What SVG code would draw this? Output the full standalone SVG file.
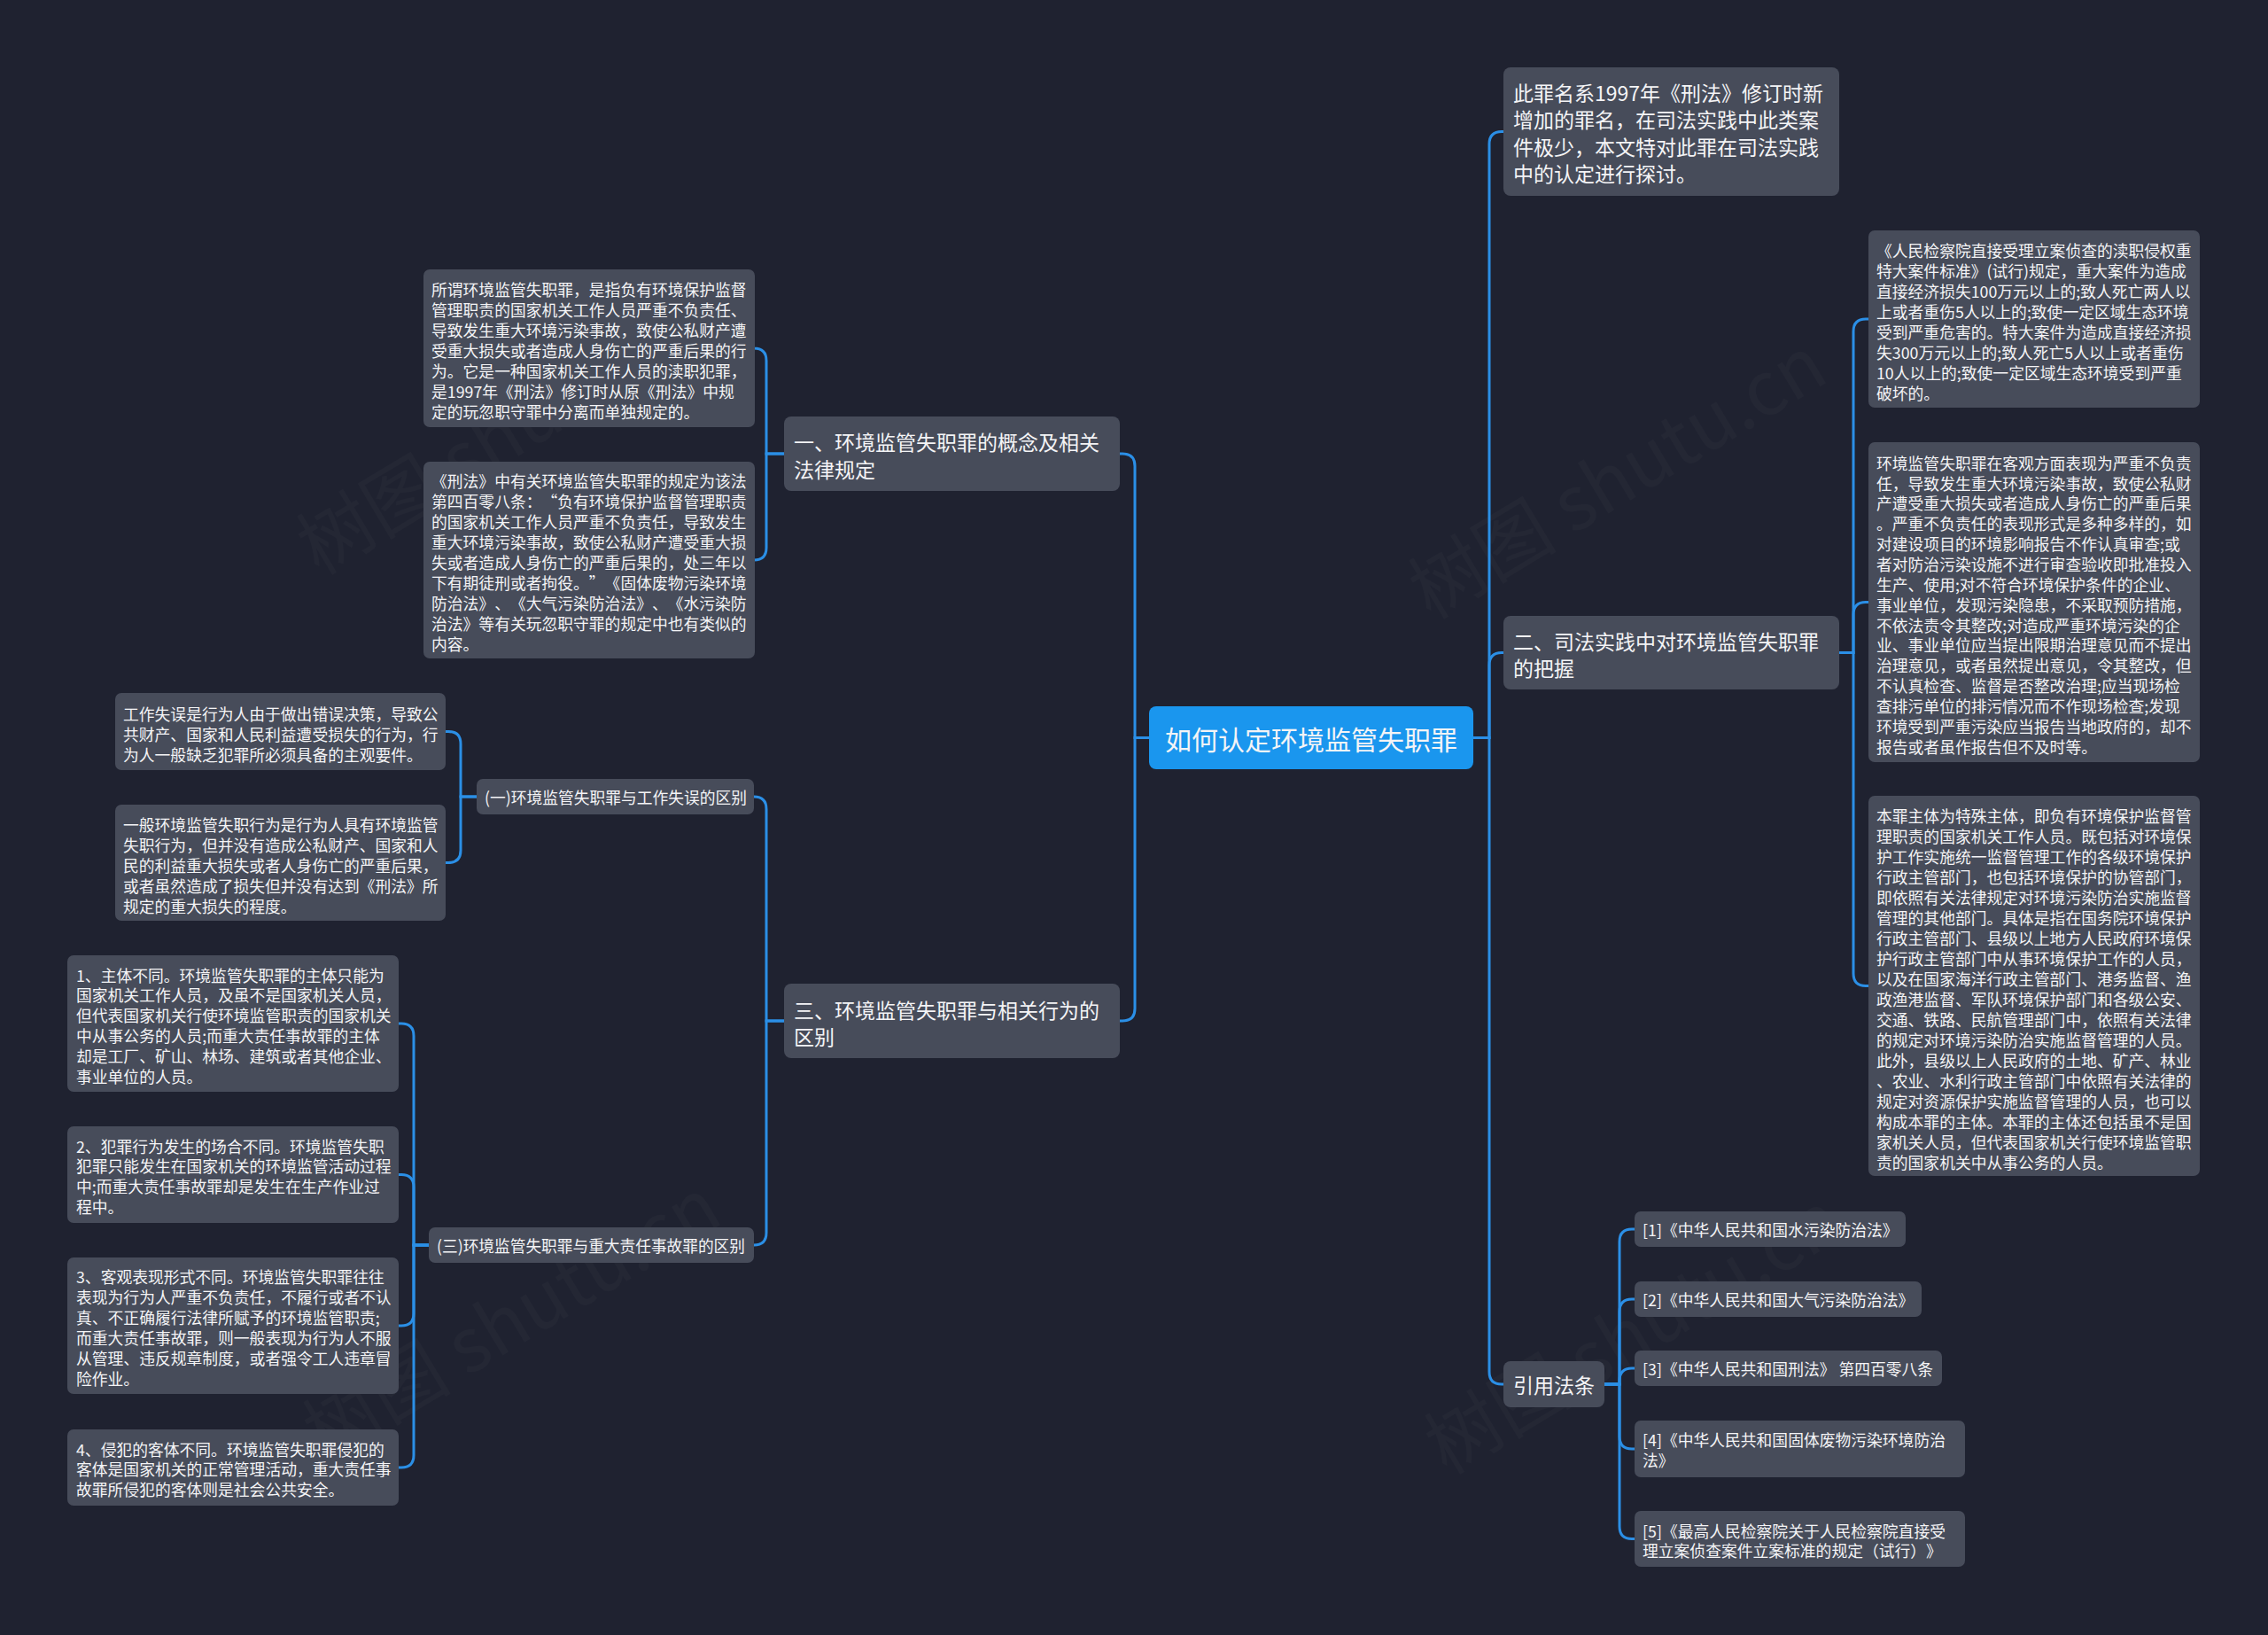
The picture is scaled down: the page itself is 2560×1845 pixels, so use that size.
<svg xmlns="http://www.w3.org/2000/svg" width="2560" height="1845" viewBox="0 0 2560 1845" lang="zh-CN" xml:lang="zh-CN">
<style>
.bg{fill:#1f2230}
.box{fill:#474c5a}
.root{fill:#1a96ee}
.t{fill:#f4f4f6;font-family:"Noto Sans CJK SC","Noto Sans",sans-serif;dominant-baseline:central;text-spacing-trim:space-all}
.s{font-size:17.8px}
.k{font-size:18.5px}
.m{font-size:23px}
.c{font-size:30px}
.e{fill:none;stroke:#2b8fe6;stroke-width:3}
.wm{fill:#ffffff;opacity:0.018;font-family:"Noto Sans CJK SC",sans-serif;font-size:84px}
</style>
<rect class="bg" x="0" y="0" width="2560" height="1845"/>
<g id="watermarks">
<text class="wm" transform="translate(360,650) rotate(-31)">树图 shutu.cn</text>
<text class="wm" transform="translate(1615,700) rotate(-31)">树图 shutu.cn</text>
<text class="wm" transform="translate(367,1650) rotate(-31)">树图 shutu.cn</text>
<text class="wm" transform="translate(1633,1665) rotate(-31)">树图 shutu.cn</text>
</g>
<g id="connectors">
<path class="e" d="M1663,832.5 H1681 V162.5 Q1681,148.5 1695,148.5 H1697"/>
<path class="e" d="M1663,832.5 H1681 V750.5 Q1681,736.5 1695,736.5 H1697"/>
<path class="e" d="M1663,832.5 H1681 V1548 Q1681,1562 1695,1562 H1697"/>
<path class="e" d="M1297,832.5 H1281 V526 Q1281,512 1267,512 H1264"/>
<path class="e" d="M1297,832.5 H1281 V1138 Q1281,1152 1267,1152 H1264"/>
<path class="e" d="M2076,736.5 H2092 V374 Q2092,360 2106,360 H2109"/>
<path class="e" d="M2076,736.5 H2092 V693.5 Q2092,679.5 2106,679.5 H2109"/>
<path class="e" d="M2076,736.5 H2092 V1098.5 Q2092,1112.5 2106,1112.5 H2109"/>
<path class="e" d="M1811,1562 H1828 V1401 Q1828,1387 1842,1387 H1845"/>
<path class="e" d="M1811,1562 H1828 V1480 Q1828,1466 1842,1466 H1845"/>
<path class="e" d="M1811,1562 H1828 V1558 Q1828,1544 1842,1544 H1845"/>
<path class="e" d="M1811,1562 H1828 V1621 Q1828,1635 1842,1635 H1845"/>
<path class="e" d="M1811,1562 H1828 V1722.5 Q1828,1736.5 1842,1736.5 H1845"/>
<path class="e" d="M885,512 H865 V407 Q865,393 851,393 H852"/>
<path class="e" d="M885,512 H865 V618 Q865,632 851,632 H852"/>
<path class="e" d="M885,1152 H865 V913 Q865,899 851,899"/>
<path class="e" d="M885,1152 H865 V1391 Q865,1405 851,1405"/>
<path class="e" d="M538,899 H520 V839.5 Q520,825.5 506,825.5 H503"/>
<path class="e" d="M538,899 H520 V959.5 Q520,973.5 506,973.5 H503"/>
<path class="e" d="M484,1405 H467 V1169 Q467,1155 453,1155 H450"/>
<path class="e" d="M484,1405 H467 V1339.5 Q467,1325.5 453,1325.5 H450"/>
<path class="e" d="M484,1405 H467 V1482 Q467,1496 453,1496 H450"/>
<path class="e" d="M484,1405 H467 V1642 Q467,1656 453,1656 H450"/>
</g>
<g id="root">
<rect class="root" x="1297" y="797" width="366" height="71" rx="8"/>
<text class="t c" x="1480" y="832.5" text-anchor="middle">如何认定环境监管失职罪</text>
</g>
<g id="intro">
<rect class="box" x="1697" y="76" width="379" height="145" rx="8"/>
<text class="t m" x="1708" y="103.5"><tspan x="1708">此罪名系1997年《刑法》修订时新</tspan><tspan x="1708" dy="30.5">增加的罪名，在司法实践中此类案</tspan><tspan x="1708" dy="30.5">件极少，本文特对此罪在司法实践</tspan><tspan x="1708" dy="30.5">中的认定进行探讨。</tspan></text>
</g>
<g id="n2">
<rect class="box" x="1697" y="695" width="379" height="83" rx="8"/>
<text class="t m" x="1708" y="722.5"><tspan x="1708">二、司法实践中对环境监管失职罪</tspan><tspan x="1708" dy="30.5">的把握</tspan></text>
</g>
<g id="leafA">
<rect class="box" x="2109" y="260" width="374" height="200" rx="7"/>
<text class="t s" x="2118" y="281.5"><tspan x="2118">《人民检察院直接受理立案侦查的渎职侵权重</tspan><tspan x="2118" dy="23.1">特大案件标准》(试行)规定，重大案件为造成</tspan><tspan x="2118" dy="23.1">直接经济损失100万元以上的;致人死亡两人以</tspan><tspan x="2118" dy="23.1">上或者重伤5人以上的;致使一定区域生态环境</tspan><tspan x="2118" dy="23.1">受到严重危害的。特大案件为造成直接经济损</tspan><tspan x="2118" dy="23.1">失300万元以上的;致人死亡5人以上或者重伤</tspan><tspan x="2118" dy="23.1">10人以上的;致使一定区域生态环境受到严重</tspan><tspan x="2118" dy="23.1">破坏的。</tspan></text>
</g>
<g id="leafB">
<rect class="box" x="2109" y="499" width="374" height="361" rx="7"/>
<text class="t s" x="2118" y="521.7"><tspan x="2118">环境监管失职罪在客观方面表现为严重不负责</tspan><tspan x="2118" dy="22.86">任，导致发生重大环境污染事故，致使公私财</tspan><tspan x="2118" dy="22.86">产遭受重大损失或者造成人身伤亡的严重后果</tspan><tspan x="2118" dy="22.86">。严重不负责任的表现形式是多种多样的，如</tspan><tspan x="2118" dy="22.86">对建设项目的环境影响报告不作认真审查;或</tspan><tspan x="2118" dy="22.86">者对防治污染设施不进行审查验收即批准投入</tspan><tspan x="2118" dy="22.86">生产、使用;对不符合环境保护条件的企业、</tspan><tspan x="2118" dy="22.86">事业单位，发现污染隐患，不采取预防措施，</tspan><tspan x="2118" dy="22.86">不依法责令其整改;对造成严重环境污染的企</tspan><tspan x="2118" dy="22.86">业、事业单位应当提出限期治理意见而不提出</tspan><tspan x="2118" dy="22.86">治理意见，或者虽然提出意见，令其整改，但</tspan><tspan x="2118" dy="22.86">不认真检查、监督是否整改治理;应当现场检</tspan><tspan x="2118" dy="22.86">查排污单位的排污情况而不作现场检查;发现</tspan><tspan x="2118" dy="22.86">环境受到严重污染应当报告当地政府的，却不</tspan><tspan x="2118" dy="22.86">报告或者虽作报告但不及时等。</tspan></text>
</g>
<g id="leafC">
<rect class="box" x="2109" y="898" width="374" height="429" rx="7"/>
<text class="t s" x="2118" y="920"><tspan x="2118">本罪主体为特殊主体，即负有环境保护监督管</tspan><tspan x="2118" dy="22.98">理职责的国家机关工作人员。既包括对环境保</tspan><tspan x="2118" dy="22.98">护工作实施统一监督管理工作的各级环境保护</tspan><tspan x="2118" dy="22.98">行政主管部门，也包括环境保护的协管部门，</tspan><tspan x="2118" dy="22.98">即依照有关法律规定对环境污染防治实施监督</tspan><tspan x="2118" dy="22.98">管理的其他部门。具体是指在国务院环境保护</tspan><tspan x="2118" dy="22.98">行政主管部门、县级以上地方人民政府环境保</tspan><tspan x="2118" dy="22.98">护行政主管部门中从事环境保护工作的人员，</tspan><tspan x="2118" dy="22.98">以及在国家海洋行政主管部门、港务监督、渔</tspan><tspan x="2118" dy="22.98">政渔港监督、军队环境保护部门和各级公安、</tspan><tspan x="2118" dy="22.98">交通、铁路、民航管理部门中，依照有关法律</tspan><tspan x="2118" dy="22.98">的规定对环境污染防治实施监督管理的人员。</tspan><tspan x="2118" dy="22.98">此外，县级以上人民政府的土地、矿产、林业</tspan><tspan x="2118" dy="22.98">、农业、水利行政主管部门中依照有关法律的</tspan><tspan x="2118" dy="22.98">规定对资源保护实施监督管理的人员，也可以</tspan><tspan x="2118" dy="22.98">构成本罪的主体。本罪的主体还包括虽不是国</tspan><tspan x="2118" dy="22.98">家机关人员，但代表国家机关行使环境监管职</tspan><tspan x="2118" dy="22.98">责的国家机关中从事公务的人员。</tspan></text>
</g>
<g id="refs">
<rect class="box" x="1697" y="1536" width="114" height="52" rx="8"/>
<text class="t m" x="1708" y="1562">引用法条</text>
</g>
<g id="ref1">
<rect class="box" x="1845" y="1367" width="306" height="40" rx="7"/>
<text class="t s" x="1854" y="1387">[1]《中华人民共和国水污染防治法》</text>
</g>
<g id="ref2">
<rect class="box" x="1845" y="1446" width="324" height="40" rx="7"/>
<text class="t s" x="1854" y="1466">[2]《中华人民共和国大气污染防治法》</text>
</g>
<g id="ref3">
<rect class="box" x="1845" y="1524" width="347" height="40" rx="7"/>
<text class="t s" x="1854" y="1544">[3]《中华人民共和国刑法》 第四百零八条</text>
</g>
<g id="ref4">
<rect class="box" x="1845" y="1603" width="373" height="64" rx="7"/>
<text class="t s" x="1854" y="1624"><tspan x="1854">[4]《中华人民共和国固体废物污染环境防治</tspan><tspan x="1854" dy="23">法》</tspan></text>
</g>
<g id="ref5">
<rect class="box" x="1845" y="1705" width="373" height="63" rx="7"/>
<text class="t s" x="1854" y="1726.5"><tspan x="1854">[5]《最高人民检察院关于人民检察院直接受</tspan><tspan x="1854" dy="22.5">理立案侦查案件立案标准的规定（试行）》</tspan></text>
</g>
<g id="n1">
<rect class="box" x="885" y="470" width="379" height="84" rx="8"/>
<text class="t m" x="896" y="498"><tspan x="896">一、环境监管失职罪的概念及相关</tspan><tspan x="896" dy="30.5">法律规定</tspan></text>
</g>
<g id="leafL1">
<rect class="box" x="478" y="304" width="374" height="178" rx="7"/>
<text class="t s" x="487" y="325.5"><tspan x="487">所谓环境监管失职罪，是指负有环境保护监督</tspan><tspan x="487" dy="23">管理职责的国家机关工作人员严重不负责任、</tspan><tspan x="487" dy="23">导致发生重大环境污染事故，致使公私财产遭</tspan><tspan x="487" dy="23">受重大损失或者造成人身伤亡的严重后果的行</tspan><tspan x="487" dy="23">为。它是一种国家机关工作人员的渎职犯罪，</tspan><tspan x="487" dy="23">是1997年《刑法》修订时从原《刑法》中规</tspan><tspan x="487" dy="23">定的玩忽职守罪中分离而单独规定的。</tspan></text>
</g>
<g id="leafL2">
<rect class="box" x="478" y="521" width="374" height="222" rx="7"/>
<text class="t s" x="487" y="542"><tspan x="487">《刑法》中有关环境监管失职罪的规定为该法</tspan><tspan x="487" dy="23">第四百零八条：“负有环境保护监督管理职责</tspan><tspan x="487" dy="23">的国家机关工作人员严重不负责任，导致发生</tspan><tspan x="487" dy="23">重大环境污染事故，致使公私财产遭受重大损</tspan><tspan x="487" dy="23">失或者造成人身伤亡的严重后果的，处三年以</tspan><tspan x="487" dy="23">下有期徒刑或者拘役。”《固体废物污染环境</tspan><tspan x="487" dy="23">防治法》、《大气污染防治法》、《水污染防</tspan><tspan x="487" dy="23">治法》等有关玩忽职守罪的规定中也有类似的</tspan><tspan x="487" dy="23">内容。</tspan></text>
</g>
<g id="n3">
<rect class="box" x="885" y="1110" width="379" height="84" rx="8"/>
<text class="t m" x="896" y="1138.5"><tspan x="896">三、环境监管失职罪与相关行为的</tspan><tspan x="896" dy="30.5">区别</tspan></text>
</g>
<g id="sub1">
<rect class="box" x="538" y="879" width="313" height="40" rx="7"/>
<text class="t k" x="547" y="899" textLength="296" lengthAdjust="spacingAndGlyphs">(一)环境监管失职罪与工作失误的区别</text>
</g>
<g id="leafW1">
<rect class="box" x="130" y="782" width="373" height="87" rx="7"/>
<text class="t s" x="139" y="805"><tspan x="139">工作失误是行为人由于做出错误决策，导致公</tspan><tspan x="139" dy="23">共财产、国家和人民利益遭受损失的行为，行</tspan><tspan x="139" dy="23">为人一般缺乏犯罪所必须具备的主观要件。</tspan></text>
</g>
<g id="leafW2">
<rect class="box" x="130" y="908" width="373" height="131" rx="7"/>
<text class="t s" x="139" y="929.5"><tspan x="139">一般环境监管失职行为是行为人具有环境监管</tspan><tspan x="139" dy="23">失职行为，但并没有造成公私财产、国家和人</tspan><tspan x="139" dy="23">民的利益重大损失或者人身伤亡的严重后果，</tspan><tspan x="139" dy="23">或者虽然造成了损失但并没有达到《刑法》所</tspan><tspan x="139" dy="23">规定的重大损失的程度。</tspan></text>
</g>
<g id="sub3">
<rect class="box" x="484" y="1385" width="367" height="40" rx="7"/>
<text class="t k" x="493" y="1405" textLength="348" lengthAdjust="spacingAndGlyphs">(三)环境监管失职罪与重大责任事故罪的区别</text>
</g>
<g id="leafZ1">
<rect class="box" x="76" y="1078" width="374" height="154" rx="7"/>
<text class="t s" x="86" y="1099.5"><tspan x="86">1、主体不同。环境监管失职罪的主体只能为</tspan><tspan x="86" dy="22.9">国家机关工作人员，及虽不是国家机关人员，</tspan><tspan x="86" dy="22.9">但代表国家机关行使环境监管职责的国家机关</tspan><tspan x="86" dy="22.9">中从事公务的人员;而重大责任事故罪的主体</tspan><tspan x="86" dy="22.9">却是工厂、矿山、林场、建筑或者其他企业、</tspan><tspan x="86" dy="22.9">事业单位的人员。</tspan></text>
</g>
<g id="leafZ2">
<rect class="box" x="76" y="1271" width="374" height="109" rx="7"/>
<text class="t s" x="86" y="1292.5"><tspan x="86">2、犯罪行为发生的场合不同。环境监管失职</tspan><tspan x="86" dy="22.9">犯罪只能发生在国家机关的环境监管活动过程</tspan><tspan x="86" dy="22.9">中;而重大责任事故罪却是发生在生产作业过</tspan><tspan x="86" dy="22.9">程中。</tspan></text>
</g>
<g id="leafZ3">
<rect class="box" x="76" y="1419" width="374" height="154" rx="7"/>
<text class="t s" x="86" y="1440"><tspan x="86">3、客观表现形式不同。环境监管失职罪往往</tspan><tspan x="86" dy="23">表现为行为人严重不负责任，不履行或者不认</tspan><tspan x="86" dy="23">真、不正确履行法律所赋予的环境监管职责;</tspan><tspan x="86" dy="23">而重大责任事故罪，则一般表现为行为人不服</tspan><tspan x="86" dy="23">从管理、违反规章制度，或者强令工人违章冒</tspan><tspan x="86" dy="23">险作业。</tspan></text>
</g>
<g id="leafZ4">
<rect class="box" x="76" y="1613" width="374" height="86" rx="7"/>
<text class="t s" x="86" y="1634.5"><tspan x="86">4、侵犯的客体不同。环境监管失职罪侵犯的</tspan><tspan x="86" dy="22.9">客体是国家机关的正常管理活动，重大责任事</tspan><tspan x="86" dy="22.9">故罪所侵犯的客体则是社会公共安全。</tspan></text>
</g>
</svg>
